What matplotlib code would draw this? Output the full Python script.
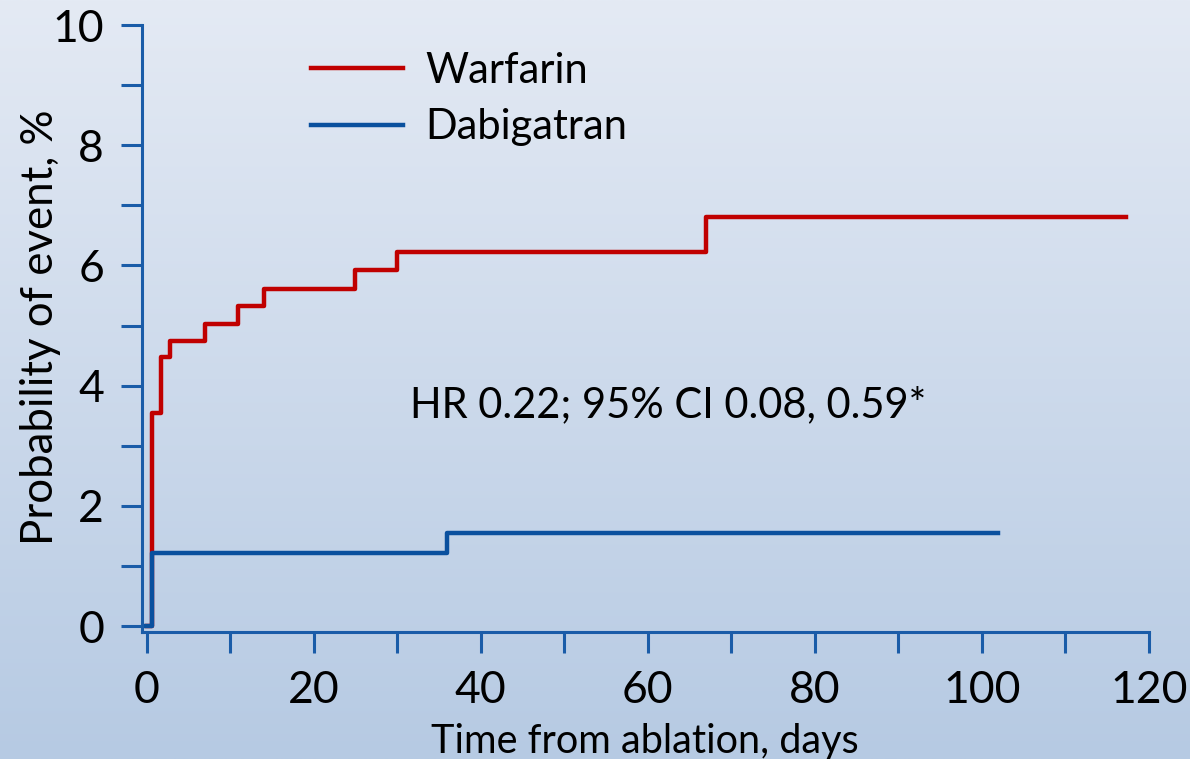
import matplotlib.pyplot as plt
import numpy as np

# Kaplan-Meier style curves
warf_t = [0, 0.7, 1.7, 2.8, 7, 11, 14, 25, 30, 67, 117.3]
warf_p = [0, 3.55, 4.47, 4.75, 5.03, 5.33, 5.6, 5.92, 6.22, 6.8, 6.8]
dab_t = [-0.1, 0.7, 36, 102]
dab_p = [0, 1.22, 1.55, 1.55]

xticks = list(range(0, 121, 10))
yticks = list(range(0, 11))
note = "HR 0.22; 95% CI 0.08, 0.59*"

plt.rcParams['font.family'] = ['Lato', 'DejaVu Sans']

fig = plt.figure(figsize=(11.9, 7.59), dpi=100)

# gradient background
bg = fig.add_axes([0, 0, 1, 1])
top = np.array([228, 234, 244]) / 255
bot = np.array([182, 202, 227]) / 255
g = np.linspace(0, 1, 256)[:, None]
img = top[None, None, :] * (1 - g[..., None]) + bot[None, None, :] * g[..., None]
img = np.repeat(img, 2, axis=1)
bg.imshow(img, aspect='auto', extent=[0, 1, 0, 1])
bg.axis('off')

ax = fig.add_axes([0.119, 0.1673, 0.8463, 0.7997])
ax.patch.set_alpha(0)
axcol = '#1a5ca8'
red = '#c00000'
blue = '#0a509e'

ax.step(warf_t, warf_p, where='post', color=red, lw=3.2, label='Warfarin')
ax.step(dab_t, dab_p, where='post', color=blue, lw=3.2, label='Dabigatran')

ax.set_xlim(-0.6, 120)
ax.set_ylim(-0.1, 10)
ax.set_xticks(xticks)
ax.set_xticklabels([str(v) if v % 20 == 0 else '' for v in xticks])
ax.set_yticks(yticks)
ax.set_yticklabels([str(v) if v % 2 == 0 else '' for v in yticks])
ax.tick_params(axis='both', colors=axcol, labelcolor='black', length=15, width=2.2,
               labelsize=32, direction='out')
ax.tick_params(axis='x', pad=12)
ax.tick_params(axis='y', pad=12)
for s in ['top', 'right']:
    ax.spines[s].set_visible(False)
for s in ['left', 'bottom']:
    ax.spines[s].set_color(axcol)
    ax.spines[s].set_linewidth(2.2)

ax.set_xlabel('Time from ablation, days', fontsize=28.5)
ax.xaxis.set_label_coords(0.5, -0.15)
ax.set_ylabel('Probability of event, %', fontsize=31.5)
ax.yaxis.set_label_coords(-0.08, 0.502)
ax.text(31.5, 3.68, note, fontsize=30, va='center', ha='left')

leg = ax.legend(loc='upper left', bbox_to_anchor=(311 / 1190, 1 - 52 / 759),
                bbox_transform=fig.transFigure, frameon=False, borderpad=0,
                borderaxespad=0, fontsize=30, handlelength=2.2,
                handletextpad=0.55, labelspacing=0.44)

fig.savefig('out.png', dpi=100)
